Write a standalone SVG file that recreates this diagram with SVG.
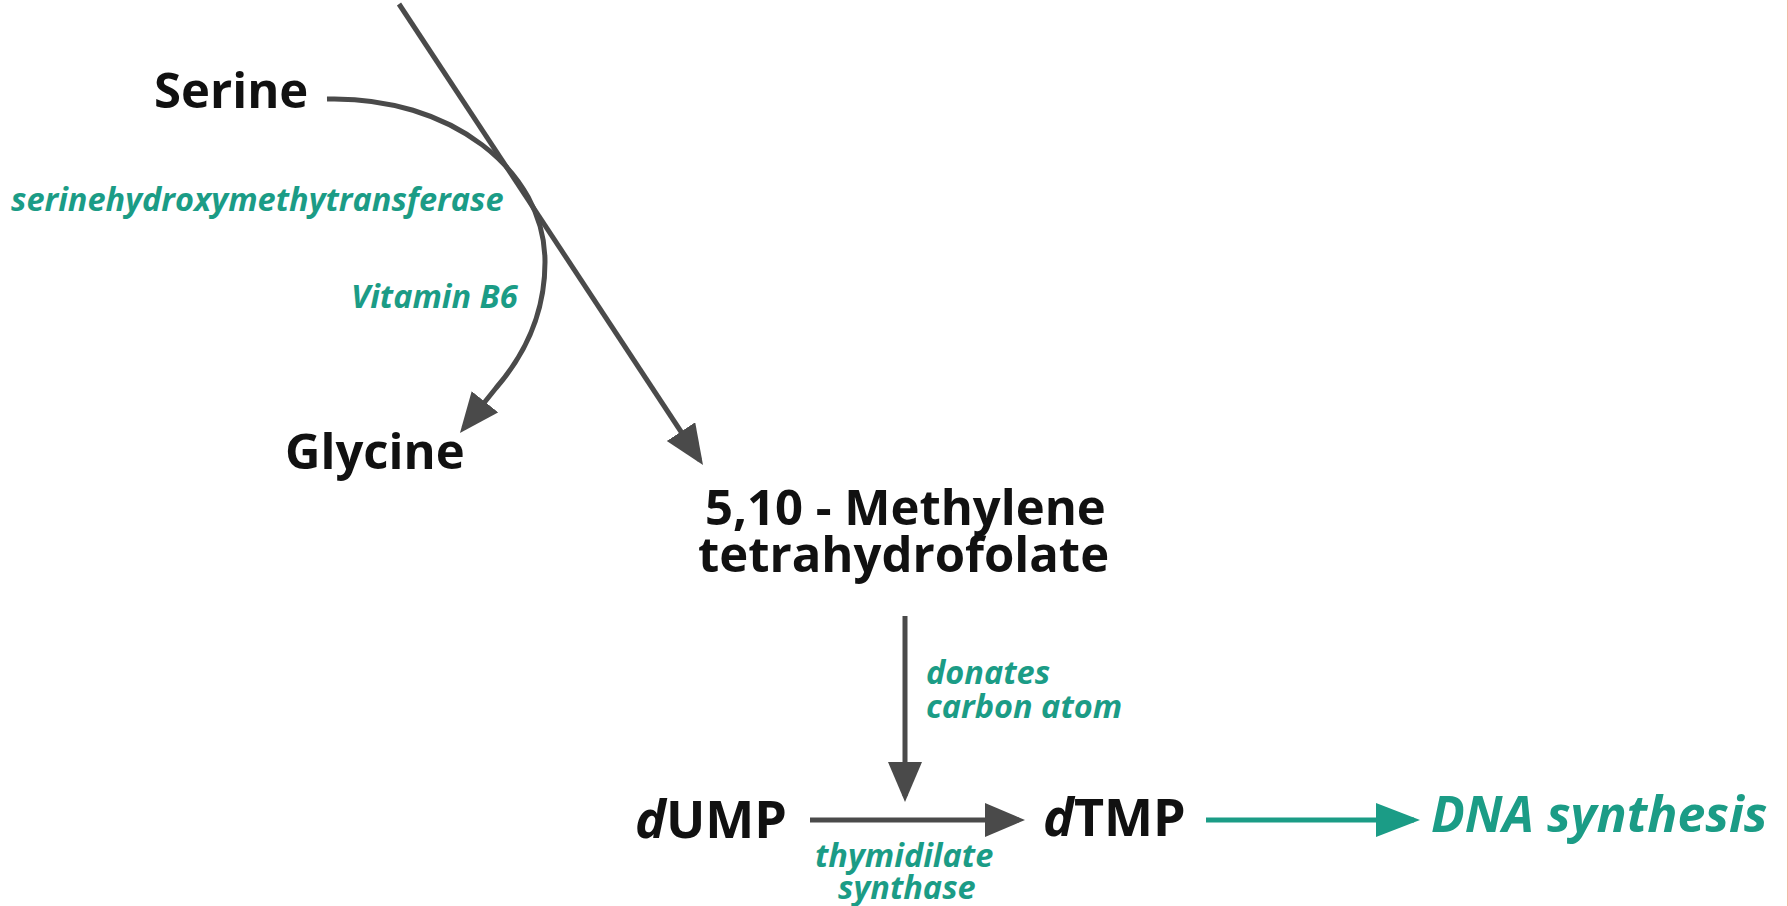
<svg xmlns="http://www.w3.org/2000/svg" width="1788" height="906" viewBox="0 0 1788 906">
<style>
.lbl{font-family:"Open Sans","Liberation Sans",sans-serif;font-weight:700;fill:#111;font-size:49px}
.big{font-size:52px}
.enz{font-family:"Open Sans","Liberation Sans",sans-serif;font-weight:700;font-style:italic;fill:#1b9c86;font-size:32.5px}
.ln{fill:none;stroke:#4a4a4a;stroke-width:5}
.tl{fill:none;stroke:#1b9c86;stroke-width:5}
</style>
<defs>
<marker id="ag" markerUnits="userSpaceOnUse" markerWidth="42" markerHeight="36" refX="34" refY="17" orient="auto" viewBox="0 0 42 36">
<path d="M0,0 L40,17 L0,34 z" fill="#4a4a4a"/>
</marker>
<marker id="at" markerUnits="userSpaceOnUse" markerWidth="46" markerHeight="36" refX="38" refY="17" orient="auto" viewBox="0 0 46 36">
<path d="M0,0 L44,17 L0,34 z" fill="#1b9c86"/>
</marker>
</defs>
<rect width="1788" height="906" fill="#fff"/>
<line x1="1787.5" y1="0" x2="1787.5" y2="906" stroke="#f2b9a3" stroke-width="1"/>
<g id="connectors">
<path class="ln" d="M399,4 L699.7,460" marker-end="url(#ag)"/>
<path class="ln" d="M327,99 C450,96 545,170 545,262 C545,318 522,358 496,388 L463.7,428.3" marker-end="url(#ag)"/>
<path class="ln" d="M905,616 L905,796" marker-end="url(#ag)"/>
<path class="ln" d="M810,820 L1019,820" marker-end="url(#ag)"/>
<path class="tl" d="M1206,820 L1414,820" marker-end="url(#at)"/>
</g>
<g id="serine"><text class="lbl" x="154" y="108">Serine</text></g>
<g id="enzyme1"><text class="enz" x="11" y="211">serinehydroxymethytransferase</text></g>
<g id="vitb6"><text class="enz" x="351" y="308">Vitamin B6</text></g>
<g id="glycine"><text class="lbl" x="285" y="469">Glycine</text></g>
<g id="methylene">
<text class="lbl" x="705" y="525">5,10 - Methylene</text>
<text class="lbl" x="698" y="572">tetrahydrofolate</text>
</g>
<g id="donates">
<text class="enz" x="926" y="684">donates</text>
<text class="enz" x="926" y="718">carbon atom</text>
</g>
<g id="dump"><text class="lbl big" x="635" y="838"><tspan font-style="italic">d</tspan>UMP</text></g>
<g id="thymidilate">
<text class="enz" x="815" y="867">thymidilate</text>
<text class="enz" x="838" y="899">synthase</text>
</g>
<g id="dtmp"><text class="lbl big" x="1043" y="836"><tspan font-style="italic">d</tspan>TMP</text></g>
<g id="dna"><text class="enz" x="1431" y="832" style="font-size:50px">DNA synthesis</text></g>
</svg>
